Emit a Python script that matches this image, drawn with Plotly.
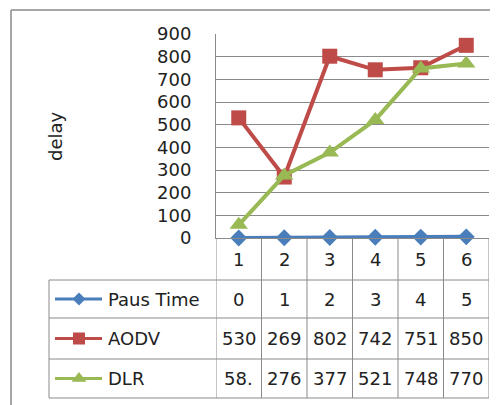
import plotly.graph_objects as go

categories = [1, 2, 3, 4, 5, 6]
paus_time = [0, 1, 2, 3, 4, 5]
aodv = [530, 269, 802, 742, 751, 850]
dlr = [58, 276, 377, 521, 748, 770]
dlr_labels = ["58.", "276", "377", "521", "748", "770"]
series_names = ["Paus Time", "AODV", "DLR"]
y_title = "delay"

W, H = 498, 405
OFF = 8  # page body margin
FONT = "DejaVu Sans"
GRID = "#8a8a8a"
TXT = "#222"
colors = ["#4a7ebb", "#be4b48", "#98b954"]
symbols = ["diamond", "square", "triangle-up"]
sizes = [13, 15, 16]


def px(x):
    return (x - OFF) / W


def py(y):
    return 1 - (y - OFF) / H


def label(x, y, text, xref="paper", xanchor="center", angle=0):
    return dict(x=x, y=y, xref=xref, yref="paper", text=text, showarrow=False,
                xanchor=xanchor, yanchor="middle", textangle=angle,
                font=dict(size=18, color=TXT))


# layout in screen pixels (plot area and the data table below it)
plot_l, plot_r, plot_t, plot_b = 216, 489, 34, 238
table_l = 49
row_lines = [280, 318, 359, 398]

fig = go.Figure()
for name, vals, col, sym, sz in zip(series_names, [paus_time, aodv, dlr], colors, symbols, sizes):
    fig.add_trace(go.Scatter(
        x=categories, y=vals, name=name, mode="lines+markers",
        line=dict(color=col, width=4),
        marker=dict(symbol=sym, size=sz, color=col),
        showlegend=False, cliponaxis=False,
    ))

shapes = []
annotations = []

# outer chart border (left and top only visible)
shapes.append(dict(type="line", xref="paper", yref="paper", x0=px(11), x1=px(11), y0=py(10), y1=0,
                   line=dict(color=GRID, width=1.5)))
shapes.append(dict(type="line", xref="paper", yref="paper", x0=px(11), x1=1, y0=py(10), y1=py(10),
                   line=dict(color=GRID, width=1.5)))

# vertical table lines at category boundaries
for b in [c - 0.5 for c in categories] + [categories[-1] + 0.5]:
    shapes.append(dict(type="line", xref="x", yref="paper", x0=b, x1=b,
                       y0=py(plot_b), y1=py(row_lines[-1]), line=dict(color=GRID, width=1)))
# left edge of legend column
shapes.append(dict(type="line", xref="paper", yref="paper", x0=px(table_l), x1=px(table_l),
                   y0=py(row_lines[0]), y1=py(row_lines[-1]), line=dict(color=GRID, width=1)))
# horizontal table lines
for r in row_lines:
    shapes.append(dict(type="line", xref="paper", yref="paper", x0=px(table_l), x1=px(plot_r),
                       y0=py(r), y1=py(r), line=dict(color=GRID, width=1)))

# category labels row
for c in categories:
    annotations.append(label(c, py((plot_b + row_lines[0]) / 2), str(c), xref="x"))

# data rows
table_rows = [[str(v) for v in paus_time], [str(v) for v in aodv], dlr_labels]
key_x0, key_x1, key_xm = 55, 102, 79
for i, (name, texts) in enumerate(zip(series_names, table_rows)):
    yc = (row_lines[i] + row_lines[i + 1]) / 2
    for c, t in zip(categories, texts):
        annotations.append(label(c, py(yc), t, xref="x"))
    annotations.append(label(px(106), py(yc), name, xanchor="left"))
    shapes.append(dict(type="line", xref="paper", yref="paper", x0=px(key_x0), x1=px(key_x1),
                       y0=py(yc), y1=py(yc), line=dict(color=colors[i], width=3)))
    fig.add_trace(go.Scatter(
        x=[key_xm - OFF], y=[yc - OFF], xaxis="x2", yaxis="y2", mode="markers",
        marker=dict(symbol=symbols[i], size=sizes[i] - 3, color=colors[i]),
        showlegend=False, hoverinfo="skip", cliponaxis=False,
    ))

# y axis title
annotations.append(label(px(56), py(136), y_title, angle=-90))

fig.update_layout(
    width=W, height=H,
    margin=dict(l=0, r=0, t=0, b=0, autoexpand=False),
    paper_bgcolor="white", plot_bgcolor="rgba(0,0,0,0)",
    font=dict(family=FONT, size=18, color=TXT),
    xaxis=dict(domain=[px(plot_l), px(plot_r)], range=[0.5, 6.5], showticklabels=False,
               showgrid=False, zeroline=False, showline=True, linecolor=GRID, linewidth=1,
               ticks="", automargin=False),
    yaxis=dict(domain=[py(plot_b), py(plot_t)], range=[0, 900], dtick=100,
               showgrid=True, gridcolor=GRID, gridwidth=1, zeroline=False,
               showline=True, linecolor=GRID, linewidth=1, ticks="", automargin=False,
               ticklabelstandoff=20, tickfont=dict(size=18, color=TXT)),
    xaxis2=dict(domain=[0, 1], range=[0, W], visible=False, anchor="y2"),
    yaxis2=dict(domain=[0, 1], range=[H, 0], visible=False, anchor="x2"),
    shapes=shapes,
    annotations=annotations,
)

fig.write_html("out.html")
